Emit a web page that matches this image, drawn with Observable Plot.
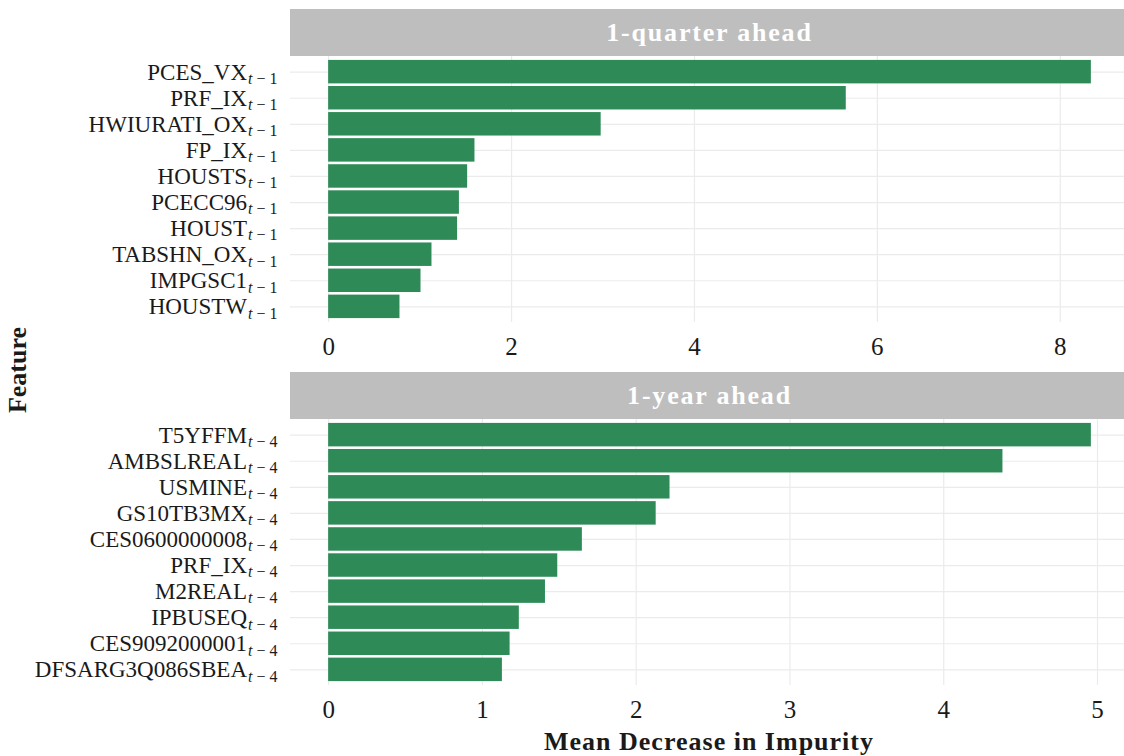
<!DOCTYPE html>
<html>
<head>
<meta charset="utf-8">
<script src="https://cdn.jsdelivr.net/npm/d3@7"></script>
<script src="https://cdn.jsdelivr.net/npm/@observablehq/plot@0.6"></script>
<style>
  html, body { margin: 0; padding: 0; background: #fff; }
  #wrap { position: relative; width: 1124px; height: 756px; overflow: hidden; background: #fff;
          font-family: "Liberation Serif", "DejaVu Serif", serif; color: #1a1a1a; }
  .strip { position: absolute; left: 290px; width: 839px; height: 47px; line-height: 47px;
           background: #BEBEBE; color: #fff; font-weight: bold; font-size: 26px; letter-spacing: 1.8px;
           text-align: center; }
  .panel { position: absolute; left: 0; width: 1130px; }
  .panel svg { max-width: none !important; width: 1130px !important; height: 316px !important; }
  .panel svg, .panel svg text, .panel svg tspan { font-family: "Liberation Serif", "DejaVu Serif", serif !important; }
  .panel [aria-label="x-axis tick label"] text { font-size: 25px !important; }
  .panel [aria-label="y-axis tick label"] text { font-size: 23px !important; }
  .panel tspan.sub { font-size: 16px !important; }
  #ylab { position: absolute; left: 18px; top: 370px; transform: translate(-50%, -50%) rotate(-90deg);
          font-weight: bold; font-size: 26px; white-space: nowrap; }
  #xlab { position: absolute; left: 709px; top: 742px; transform: translate(-50%, -50%);
          font-weight: bold; font-size: 26px; letter-spacing: 1px; white-space: nowrap; }
</style>
</head>
<body>
<div id="wrap">
  <div class="strip" id="strip1" style="top:9px"></div>
  <div class="panel" id="p1" style="top:56px"></div>
  <div class="strip" id="strip2" style="top:372px"></div>
  <div class="panel" id="p2" style="top:419px"></div>
  <div id="ylab">Feature</div>
  <div id="xlab">Mean Decrease in Impurity</div>
</div>
<script>
// ---- data ----
const panelTitles = ["1-quarter ahead", "1-year ahead"];
const lags = ["1", "4"];

const featuresQuarter = ["PCES_VX", "PRF_IX", "HWIURATI_OX", "FP_IX", "HOUSTS", "PCECC96", "HOUST", "TABSHN_OX", "IMPGSC1", "HOUSTW"];
const valuesQuarter   = [8.34, 5.66, 2.98, 1.60, 1.52, 1.43, 1.41, 1.13, 1.01, 0.78];
const ticksQuarter    = [0, 2, 4, 6, 8];

const featuresYear = ["T5YFFM", "AMBSLREAL", "USMINE", "GS10TB3MX", "CES0600000008", "PRF_IX", "M2REAL", "IPBUSEQ", "CES9092000001", "DFSARG3Q086SBEA"];
const valuesYear   = [4.96, 4.385, 2.22, 2.13, 1.65, 1.49, 1.41, 1.24, 1.18, 1.13];
const ticksYear    = [0, 1, 2, 3, 4, 5];

const barColor = "#2E8B57";
const gridColor = "#EBEBEB";
const SVGNS = "http://www.w3.org/2000/svg";

function panel(features, values, ticks, lag) {
  const data = features.map((f, i) => ({feature: f, value: values[i]}));
  const max = d3.max(values);
  const svg = Plot.plot({
    width: 1130,
    height: 316,
    marginLeft: 290,
    marginRight: 1,
    marginTop: 0,
    marginBottom: 50,
    style: {fontFamily: "'Liberation Serif', 'DejaVu Serif', serif", fontSize: "23px", color: "#1a1a1a", background: "transparent", overflow: "visible"},
    x: {domain: [-0.05 * max, 1.05 * max], label: null},
    y: {domain: features, paddingInner: 0.1, paddingOuter: 0.15, round: false, label: null},
    marks: [
      Plot.gridX({ticks, stroke: gridColor, strokeOpacity: 1, strokeWidth: 1.2}),
      Plot.gridY({stroke: gridColor, strokeOpacity: 1, strokeWidth: 1.2}),
      Plot.barX(data, {x: "value", y: "feature", fill: barColor}),
      Plot.axisX({ticks, tickFormat: d3.format("d"), tickSize: 0, tickPadding: 15, label: null, fill: "#1a1a1a"}),
      Plot.axisY({tickSize: 0, tickPadding: 13, label: null, fill: "#1a1a1a"})
    ]
  });
  // add subscripts t − lag to the y tick labels
  svg.querySelectorAll('[aria-label="y-axis tick label"] text').forEach(t => {
    const name = t.textContent;
    t.textContent = "";
    const main = document.createElementNS(SVGNS, "tspan");
    main.textContent = name;
    t.appendChild(main);
    const sub = document.createElementNS(SVGNS, "tspan");
    sub.setAttribute("class", "sub");
    sub.setAttribute("dy", "0.28em");
    sub.setAttribute("dx", "1");
    const it = document.createElementNS(SVGNS, "tspan");
    it.setAttribute("font-style", "italic");
    it.textContent = "t";
    sub.appendChild(it);
    const rest = document.createElementNS(SVGNS, "tspan");
    rest.textContent = " \u2212 " + lag;
    sub.appendChild(rest);
    t.appendChild(sub);
  });
  return svg;
}

document.getElementById("strip1").textContent = panelTitles[0];
document.getElementById("strip2").textContent = panelTitles[1];
document.getElementById("p1").appendChild(panel(featuresQuarter, valuesQuarter, ticksQuarter, lags[0]));
document.getElementById("p2").appendChild(panel(featuresYear, valuesYear, ticksYear, lags[1]));
</script>
</body>
</html>
